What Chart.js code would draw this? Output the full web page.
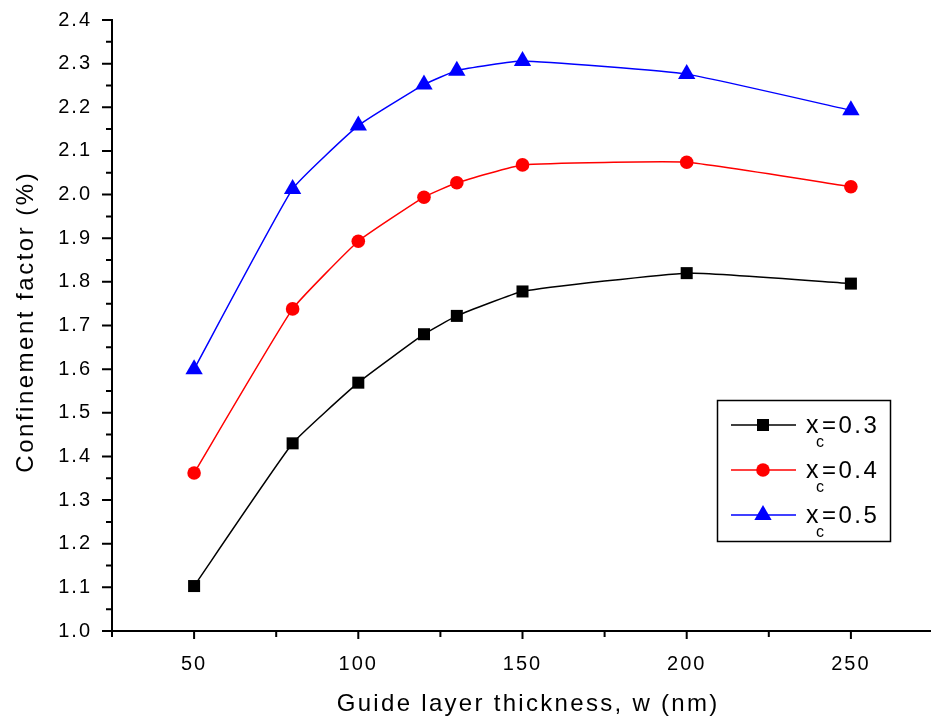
<!DOCTYPE html>
<html>
<head>
<meta charset="utf-8">
<title>Confinement factor vs guide layer thickness</title>
<script src="https://cdn.jsdelivr.net/npm/chart.js@4.4.1/dist/chart.umd.min.js"></script>
<style>
  html, body { margin: 0; padding: 0; background: #fff; overflow: hidden; }
  #wrap { width: 934px; height: 724px; }
</style>
</head>
<body>
<div id="wrap"><canvas id="chart" width="934" height="724"></canvas></div>
<script>
// guide layer thickness w (nm)
const thickness = [50, 80, 100, 120, 130, 150, 200, 250];

// confinement factor (%) for each Al fraction of the cladding
const gammaXc03 = [1.103, 1.430, 1.569, 1.680, 1.722, 1.778, 1.820, 1.796];
const gammaXc04 = [1.362, 1.738, 1.893, 1.994, 2.027, 2.068, 2.074, 2.018];
const gammaXc05 = [1.600, 2.013, 2.158, 2.252, 2.284, 2.306, 2.276, 2.193];

const xcValues = ['0.3', '0.4', '0.5'];

// axis ticks
const xTicks = [50, 100, 150, 200, 250];
const xMinorTicks = [25, 75, 125, 175, 225, 275];
const yTicks = [1.0, 1.1, 1.2, 1.3, 1.4, 1.5, 1.6, 1.7, 1.8, 1.9, 2.0, 2.1, 2.2, 2.3, 2.4];

const FONT = '"Liberation Sans", Arial, sans-serif';

function series(values, color, style, radius) {
  return {
    data: thickness.map((t, i) => ({ x: t, y: values[i] })),
    borderColor: color,
    backgroundColor: color,
    pointBackgroundColor: color,
    borderWidth: 1.5,
    pointStyle: style,
    pointRadius: radius,
    pointBorderWidth: 0,
    tension: 0.12
  };
}

// fixed axis box sizes, no extra padding for the edge labels
function fixX(s) { s.height = 93; s.paddingLeft = 0; s.paddingRight = 0; }
function fixY(s) { s.width = 112; s.paddingTop = 0; s.paddingBottom = 0; }

// short major / minor tick marks, axis titles and the boxed legend
const decorations = {
  id: 'decorations',
  beforeDraw(chart) {
    chart.ctx.letterSpacing = '2px';
  },
  beforeDatasetsDraw(chart) {
    chart.ctx.letterSpacing = '0px';
  },
  afterDraw(chart) {
    const ctx = chart.ctx;
    const xs = chart.scales.x, ys = chart.scales.y;
    const ax = chart.chartArea.left, ay = chart.chartArea.bottom;

    ctx.save();
    ctx.strokeStyle = '#000';
    ctx.lineWidth = 2;
    ctx.beginPath();
    xTicks.forEach(v => { const p = xs.getPixelForValue(v); ctx.moveTo(p, ay); ctx.lineTo(p, ay + 8); });
    xMinorTicks.forEach(v => { const p = xs.getPixelForValue(v); ctx.moveTo(p, ay); ctx.lineTo(p, ay + 6); });
    yTicks.forEach((v, i) => {
      const p = ys.getPixelForValue(v);
      ctx.moveTo(ax, p); ctx.lineTo(ax - 10, p);
      if (i > 0) {
        const m = ys.getPixelForValue((v + yTicks[i - 1]) / 2);
        ctx.moveTo(ax, m); ctx.lineTo(ax - 6, m);
      }
    });
    ctx.stroke();

    // axis titles
    ctx.fillStyle = '#000';
    ctx.textAlign = 'left';
    ctx.textBaseline = 'alphabetic';
    ctx.font = '24px ' + FONT;
    ctx.letterSpacing = '2.3px';
    const xt = 'Guide layer thickness, w (nm)';
    const xw = ctx.measureText(xt).width - 2.3;
    ctx.fillText(xt, 527 - xw / 2, 711);

    ctx.letterSpacing = '2.5px';
    const yt = 'Confinement factor (%)';
    const yw = ctx.measureText(yt).width - 2.5;
    ctx.save();
    ctx.translate(33, 323);
    ctx.rotate(-Math.PI / 2);
    ctx.fillText(yt, -yw / 2, 0);
    ctx.restore();

    // legend
    ctx.lineWidth = 1.5;
    ctx.strokeStyle = '#000';
    ctx.strokeRect(717.5, 400.5, 173, 141);
    chart.data.datasets.forEach((ds, i) => {
      const ry = 425 + 45 * i;
      ctx.strokeStyle = ds.borderColor;
      ctx.lineWidth = 1.5;
      ctx.beginPath();
      ctx.moveTo(731, ry); ctx.lineTo(796, ry);
      ctx.stroke();
      ctx.fillStyle = ds.borderColor;
      Chart.helpers.drawPoint(ctx, { pointStyle: ds.pointStyle, radius: ds.pointRadius, borderWidth: 0, rotation: 0 }, 763, ry);

      ctx.fillStyle = '#000';
      ctx.letterSpacing = '0px';
      ctx.font = '25px ' + FONT;
      ctx.fillText('x', 806, ry + 8);
      ctx.font = '16px ' + FONT;
      ctx.fillText('c', 816, ry + 22);
      ctx.font = '24px ' + FONT;
      ctx.letterSpacing = '2.5px';
      ctx.fillText('=' + xcValues[i], 822, ry + 8);
    });
    ctx.restore();
  }
};

new Chart(document.getElementById('chart'), {
  type: 'line',
  data: {
    datasets: [
      series(gammaXc03, '#000000', 'rect', 8.5),
      series(gammaXc04, '#ff0000', 'circle', 6.8),
      series(gammaXc05, '#0000ff', 'triangle', 10)
    ]
  },
  options: {
    responsive: false,
    devicePixelRatio: 1,
    animation: false,
    events: [],
    layout: { autoPadding: false, padding: { top: 20, right: 1, bottom: 0, left: 0 } },
    plugins: { legend: { display: false }, tooltip: { enabled: false } },
    scales: {
      x: {
        type: 'linear',
        min: 25,
        max: 275,
        afterBuildTicks: s => { s.ticks = xTicks.map(v => ({ value: v })); },
        afterFit: fixX,
        grid: { display: false, drawTicks: false },
        border: { display: true, color: '#000', width: 2 },
        ticks: { padding: 21, color: '#000', font: { family: FONT, size: 20 }, maxRotation: 0, autoSkip: false }
      },
      y: {
        type: 'linear',
        min: 1.0,
        max: 2.4,
        afterBuildTicks: s => { s.ticks = yTicks.map(v => ({ value: v })); },
        afterFit: fixY,
        grid: { display: false, drawTicks: false },
        border: { display: true, color: '#000', width: 2 },
        ticks: { padding: 20, color: '#000', font: { family: FONT, size: 20 }, autoSkip: false, callback: v => v.toFixed(1) }
      }
    }
  },
  plugins: [decorations]
});
</script>
</body>
</html>
